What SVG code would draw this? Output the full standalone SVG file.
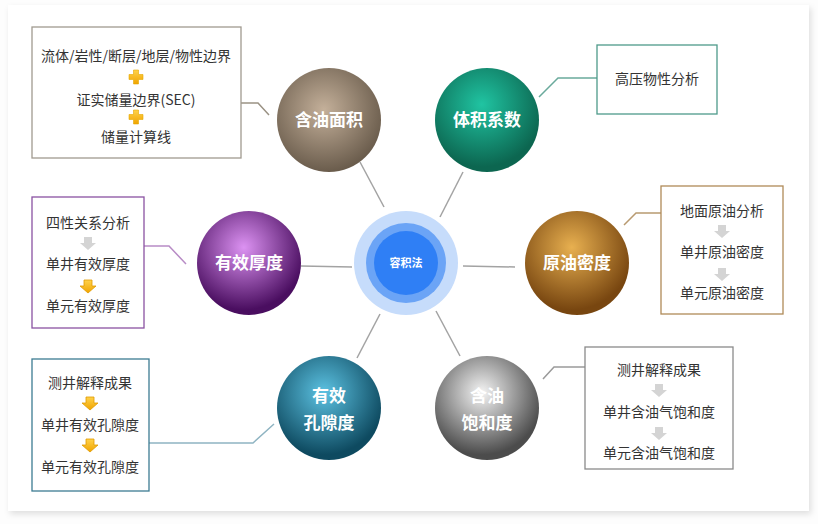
<svg xmlns="http://www.w3.org/2000/svg" width="818" height="524" viewBox="0 0 818 524">
<defs>
<filter id="cardShadow" x="-5%" y="-5%" width="110%" height="110%">
<feDropShadow dx="2" dy="3" stdDeviation="3" flood-color="#000" flood-opacity="0.12"/>
</filter>
<radialGradient id="gBrown" cx="45%" cy="40%" r="60%"><stop offset="0" stop-color="#c4b09a"/><stop offset="1" stop-color="#6a5c4c"/></radialGradient>
<radialGradient id="gTeal" cx="45%" cy="35%" r="60%"><stop offset="0" stop-color="#20c4a2"/><stop offset="1" stop-color="#0c6650"/></radialGradient>
<radialGradient id="gGold" cx="45%" cy="35%" r="60%"><stop offset="0" stop-color="#e8b050"/><stop offset="1" stop-color="#784610"/></radialGradient>
<radialGradient id="gPurple" cx="45%" cy="35%" r="60%"><stop offset="0" stop-color="#dc92f2"/><stop offset="1" stop-color="#4a0e60"/></radialGradient>
<radialGradient id="gBlue" cx="45%" cy="35%" r="60%"><stop offset="0" stop-color="#5cc2e2"/><stop offset="1" stop-color="#0e4a60"/></radialGradient>
<radialGradient id="gGray" cx="45%" cy="35%" r="60%"><stop offset="0" stop-color="#f4f4f4"/><stop offset="1" stop-color="#4c4c4c"/></radialGradient>
<linearGradient id="gYellow" x1="0" y1="0" x2="0" y2="1"><stop offset="0" stop-color="#ffd24a"/><stop offset="1" stop-color="#f0a400"/></linearGradient>
<path id="arrowShape" d="M-4,-6 H4 V0 H8 L0,7 L-8,0 H-4 Z"/>
<path id="plusShape" d="M-2.5,-7 H2.5 V-2.5 H7 V2.5 H2.5 V7 H-2.5 V2.5 H-7 V-2.5 H-2.5 Z"/>
</defs>
<style>
.box{fill:#fff;stroke-width:1.3}
.t{font-family:"Noto Sans CJK SC","Noto Sans",sans-serif;font-size:14px;fill:#333;text-anchor:middle}
.ct{font-family:"Noto Sans CJK SC","Noto Sans",sans-serif;font-size:17px;font-weight:bold;fill:#fff;text-anchor:middle}
.spoke{stroke:#a3a3a3;stroke-width:1.5;fill:none}
.link{fill:none;stroke-width:1.5}
.ga{fill:#d4d4d4}
.ya{fill:url(#gYellow);stroke:#e09a00;stroke-width:0.8}
</style>
<rect x="0" y="0" width="818" height="524" fill="#fdfdfd"/>
<rect x="8" y="5" width="801" height="506" fill="#fff" filter="url(#cardShadow)"/>

<g id="connectors">
<line class="spoke" x1="360" y1="162" x2="384" y2="207"/>
<line class="spoke" x1="463" y1="172" x2="440" y2="217"/>
<line class="spoke" x1="301" y1="266" x2="352" y2="267"/>
<line class="spoke" x1="463" y1="266" x2="515" y2="267"/>
<line class="spoke" x1="380" y1="314" x2="357" y2="358"/>
<line class="spoke" x1="436" y1="311" x2="460" y2="356"/>
<polyline class="link" stroke="#9a9284" points="241,103 258,103 269,115"/>
<polyline class="link" stroke="#6aaa9c" points="597,78 558,78 539,97"/>
<polyline class="link" stroke="#b89a70" points="661,213 636,213 624,225"/>
<polyline class="link" stroke="#b88cc6" points="144,246 169,246 186,264"/>
<polyline class="link" stroke="#8fb4c2" points="149,443 253,443 274,424"/>
<polyline class="link" stroke="#9a9a9a" points="585,367 554,367 543,379"/>
</g>

<g id="center">
<circle cx="406" cy="263" r="52" fill="#c6dcfb"/>
<circle cx="406" cy="263" r="40" fill="#6ba4f6"/>
<circle cx="406" cy="263" r="32" fill="#2f7ff5"/>
<text x="406" y="267" font-family="'Noto Sans CJK SC',sans-serif" font-size="11" font-weight="bold" fill="#fff" text-anchor="middle">容积法</text>
</g>

<g id="node-area">
<circle cx="329" cy="120" r="52" fill="url(#gBrown)"/>
<text class="ct" x="329" y="126">含油面积</text>
</g>
<g id="box-area">
<rect class="box" x="32" y="27" width="209" height="131" stroke="#a09a90"/>
<text class="t" x="136" y="61">流体/岩性/断层/地层/物性边界</text>
<use href="#plusShape" x="136" y="77" fill="url(#gYellow)" stroke="#e6a800" stroke-width="0.6"/>
<text class="t" x="136" y="105">证实储量边界(SEC)</text>
<use href="#plusShape" x="136" y="117" fill="url(#gYellow)" stroke="#e6a800" stroke-width="0.6"/>
<text class="t" x="136" y="142">储量计算线</text>
</g>

<g id="node-volume">
<circle cx="487" cy="120" r="52" fill="url(#gTeal)"/>
<text class="ct" x="487" y="126">体积系数</text>
</g>
<g id="box-volume">
<rect class="box" x="597" y="45" width="120" height="69" stroke="#4e9a8a"/>
<text class="t" x="657" y="84">高压物性分析</text>
</g>

<g id="node-density">
<circle cx="577" cy="263" r="52" fill="url(#gGold)"/>
<text class="ct" x="577" y="269">原油密度</text>
</g>
<g id="box-density">
<rect class="box" x="661" y="186" width="122" height="128" stroke="#b08a58"/>
<text class="t" x="722" y="216">地面原油分析</text>
<use href="#arrowShape" x="722" y="231" class="ga"/>
<text class="t" x="722" y="257">单井原油密度</text>
<use href="#arrowShape" x="722" y="274" class="ga"/>
<text class="t" x="722" y="298">单元原油密度</text>
</g>

<g id="node-thickness">
<circle cx="249" cy="263" r="52" fill="url(#gPurple)"/>
<text class="ct" x="249" y="269">有效厚度</text>
</g>
<g id="box-thickness">
<rect class="box" x="32" y="197" width="112" height="131" stroke="#8a52a2"/>
<text class="t" x="88" y="228">四性关系分析</text>
<use href="#arrowShape" x="88" y="243" class="ga"/>
<text class="t" x="88" y="269">单井有效厚度</text>
<use href="#arrowShape" x="88" y="286" class="ya"/>
<text class="t" x="88" y="311">单元有效厚度</text>
</g>

<g id="node-porosity">
<circle cx="329" cy="408" r="52" fill="url(#gBlue)"/>
<text class="ct" x="329" y="402">有效</text>
<text class="ct" x="329" y="429">孔隙度</text>
</g>
<g id="box-porosity">
<rect class="box" x="32" y="359" width="117" height="132" stroke="#3c7c92"/>
<text class="t" x="90" y="388">测井解释成果</text>
<use href="#arrowShape" x="90" y="403" class="ya"/>
<text class="t" x="90" y="430">单井有效孔隙度</text>
<use href="#arrowShape" x="90" y="445" class="ya"/>
<text class="t" x="90" y="472">单元有效孔隙度</text>
</g>

<g id="node-saturation">
<circle cx="487" cy="408" r="52" fill="url(#gGray)"/>
<text class="ct" x="487" y="402">含油</text>
<text class="ct" x="487" y="429">饱和度</text>
</g>
<g id="box-saturation">
<rect class="box" x="585" y="347" width="148" height="122" stroke="#8a8a8a"/>
<text class="t" x="659" y="375">测井解释成果</text>
<use href="#arrowShape" x="659" y="390" class="ga"/>
<text class="t" x="659" y="417">单井含油气饱和度</text>
<use href="#arrowShape" x="659" y="433" class="ga"/>
<text class="t" x="659" y="458">单元含油气饱和度</text>
</g>
</svg>
